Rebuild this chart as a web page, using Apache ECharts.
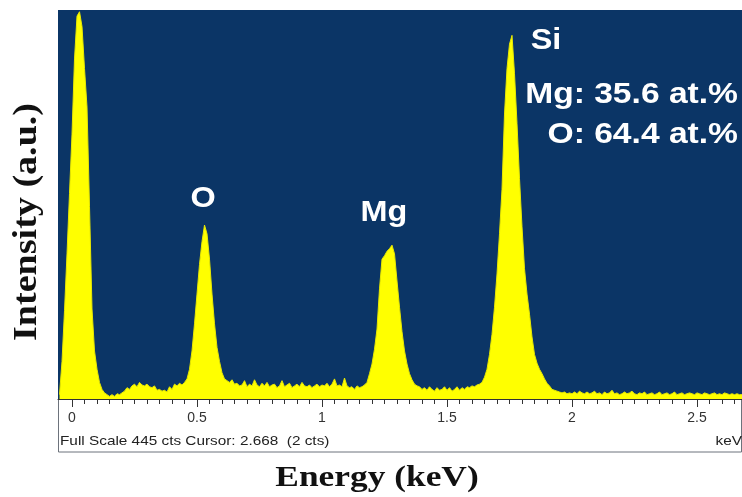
<!DOCTYPE html>
<html><head><meta charset="utf-8">
<script src="https://cdn.jsdelivr.net/npm/echarts@6/dist/echarts.min.js"></script>
<style>html,body{margin:0;padding:0;background:#fff}#c{width:742px;height:497px}</style>
</head><body><div id="c"></div>
<script>
// Channel calibration of the EDS spectrum
const energyStart = -0.05; // keV of first channel
const energyStep = 0.01;   // keV per channel
// Counts per channel (full scale 445 cts)
const counts = [
  5,43,101,166,235,303,389,438,443,426,378,334,220,103,55,34,19,11,
  7,5,3,5,3,6,5,7,9,13,11,15,17,14,19,16,15,17,14,13,15,10,11,9,10,8,14,11,17,15,18,16,19,
  23,34,55,86,120,154,180,199,189,160,120,86,59,43,30,23,21,
  19,22,17,18,15,16,21,14,17,15,22,16,14,18,15,19,14,16,17,13,15,21,14,16,18,13,15,17,14,19,
  15,14,16,13,15,17,14,16,15,18,14,17,23,15,16,14,24,15,13,14,11,15,13,14,16,
  19,29,40,57,80,126,160,164,169,172,176,166,135,105,77,55,40,29,22,17,
  15,14,11,13,10,14,11,9,13,10,11,14,10,13,9,11,14,10,13,11,14,13,15,14,16,17,
  19,25,34,51,74,105,143,189,240,326,378,406,416,372,315,252,197,149,120,97,71,51,41,34,29,23,18,15,
  11,10,9,8,7,8,6,7,6,
  8,6,9,7,6,8,6,7,9,6,
  7,5,8,6,7,10,6,7,5,6,
  8,6,7,9,6,5,7,6,8,5,
  6,7,5,6,8,5,6,7,5,6,
  8,5,6,7,5,6,7,6,5,7,
  6,5,7,6,5,6,7,5,6,5,
  7,6,5,6,5,6,5,5
];
const fullScale = 445;
const xMin = -0.056, xMax = 2.68;
const xTickLabels = [0, 0.5, 1, 1.5, 2, 2.5];
const xMinorTicks = [0,0.05,0.1,0.15,0.2,0.25,0.3,0.35,0.4,0.45,0.5,0.55,0.6,0.65,0.7,0.75,0.8,0.85,0.9,0.95,
  1,1.05,1.1,1.15,1.2,1.25,1.3,1.35,1.4,1.45,1.5,1.55,1.6,1.65,1.7,1.75,1.8,1.85,1.9,1.95,
  2,2.05,2.1,2.15,2.2,2.25,2.3,2.35,2.4,2.45,2.5,2.55,2.6,2.65];
const peakLabels = [
  { text: 'O',  x: 203, y: 199 },
  { text: 'Mg', x: 384, y: 213 },
  { text: 'Si', x: 546, y: 41 }
];
const compositionLines = ['Mg: 35.6 at.%', 'O: 64.4 at.%'];
const statusText = 'Full Scale 445 cts Cursor: 2.668  (2 cts)';
const unitText = 'keV';
const xTitle = 'Energy (keV)';
const yTitle = 'Intensity (a.u.)';

const spectrum = counts.map((c, i) => [+(energyStart + i * energyStep).toFixed(2), c]);

const chart = echarts.init(document.getElementById('c'), null, { renderer: 'canvas' });
const white = '#ffffff';
const labelFont = '"Liberation Sans", Arial, sans-serif';
const graphics = [
  { type: 'rect', z: -1, shape: { x: 58.5, y: 399.5, width: 683, height: 52.5 },
    style: { fill: '#ffffff', stroke: '#6d737c', lineWidth: 1 } },
  { type: 'text', z: 100, x: 60, y: 441, scaleX: 1.18,
    style: { text: statusText, font: '13px "Liberation Sans", Arial, sans-serif', fill: '#222', textAlign: 'left', textVerticalAlign: 'middle' } },
  { type: 'text', z: 100, x: 742, y: 441, scaleX: 1.18,
    style: { text: unitText, font: '13px "Liberation Sans", Arial, sans-serif', fill: '#222', textAlign: 'right', textVerticalAlign: 'middle' } },
  { type: 'text', z: 100, x: 377, y: 479, scaleX: 1.22,
    style: { text: xTitle, font: 'bold 29px "Liberation Serif", "Times New Roman", serif', fill: '#111', textAlign: 'center', textVerticalAlign: 'middle' } },
  { type: 'text', z: 100, x: 27, y: 222, rotation: Math.PI / 2, scaleX: 1.12,
    style: { text: yTitle, font: 'bold 34px "Liberation Serif", "Times New Roman", serif', fill: '#111', textAlign: 'center', textVerticalAlign: 'middle' } }
];
peakLabels.forEach(p => graphics.push({ type: 'text', z: 100, x: p.x, y: p.y, scaleX: 1.08,
  style: { text: p.text, font: 'bold 30px ' + labelFont, fill: white, textAlign: 'center', textVerticalAlign: 'middle' } }));
compositionLines.forEach((t, i) => graphics.push({ type: 'text', z: 100, x: 738, y: 95 + i * 40, scaleX: 1.12,
  style: { text: t, font: 'bold 30px ' + labelFont, fill: white, textAlign: 'right', textVerticalAlign: 'middle' } }));

chart.setOption({
  animation: false,
  backgroundColor: '#ffffff',
  grid: { left: 58, right: 0, top: 10, bottom: 98, show: true, backgroundColor: '#0b3566', borderWidth: 0 },
  xAxis: [
    { type: 'value', min: xMin, max: xMax, position: 'bottom',
      axisLine: { show: true, onZero: false, lineStyle: { color: '#333', width: 1 } },
      axisTick: { show: true, customValues: xMinorTicks, length: 5, lineStyle: { color: '#333' } },
      axisLabel: { show: true, customValues: xTickLabels, margin: 12, fontSize: 14, color: '#333',
        fontFamily: '"Liberation Sans", Arial, sans-serif' },
      splitLine: { show: false } },
    { type: 'value', min: xMin, max: xMax, position: 'bottom', gridIndex: 0,
      axisLine: { show: false, onZero: false },
      axisTick: { show: true, customValues: xTickLabels, length: 8, lineStyle: { color: '#333' } },
      axisLabel: { show: false }, splitLine: { show: false } }
  ],
  yAxis: { type: 'value', min: 0, max: fullScale, show: false, splitLine: { show: false } },
  series: [{
    type: 'line', data: spectrum, xAxisIndex: 0, symbol: 'none', smooth: false,
    lineStyle: { color: '#e8e800', width: 1 },
    areaStyle: { color: '#ffff00', opacity: 1 },
    z: 2
  }],
  graphic: graphics
});
</script></body></html>
